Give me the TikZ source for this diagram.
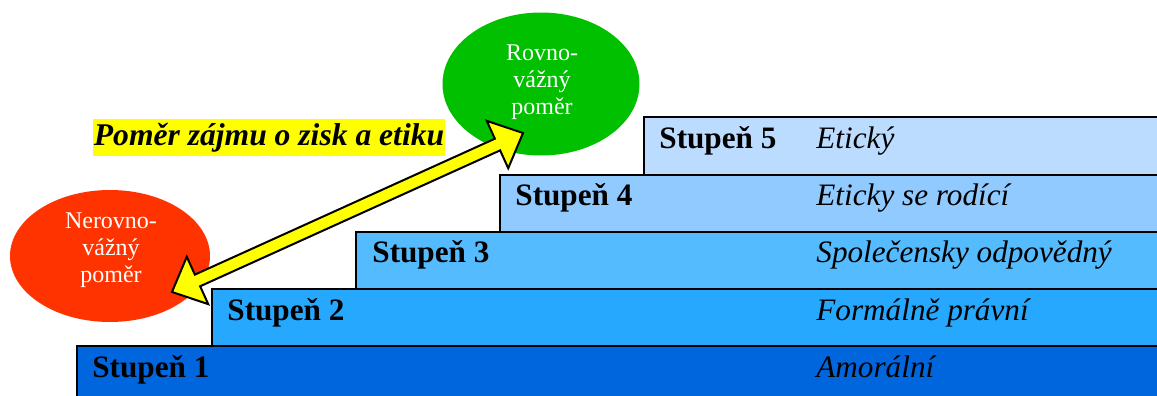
\documentclass[tikz,border=0pt]{standalone}
\usepackage{fontspec}
\setmainfont{Liberation Serif}
\usetikzlibrary{shapes.geometric,calc}

% fills of the five stages, darkest at the bottom
\definecolor{stageA}{RGB}{0,102,221}
\definecolor{stageB}{RGB}{38,168,255}
\definecolor{stageC}{RGB}{84,187,255}
\definecolor{stageD}{RGB}{144,202,255}
\definecolor{stageE}{RGB}{187,220,255}
\definecolor{unevenred}{RGB}{255,51,0}
\definecolor{evengreen}{RGB}{0,192,0}
\definecolor{marker}{RGB}{255,255,0}

\begin{document}
\begin{tikzpicture}[x=0.5pt,y=-0.5pt,
  stagebar/.style={draw=black, line width=1.2pt},
  stagelabel/.style={font=\fontsize{15.6}{18}\selectfont\bfseries, anchor=base west, inner sep=0pt},
  stagename/.style={font=\fontsize{15.6}{18}\selectfont\itshape, anchor=base west, inner sep=0pt},
  blob/.style={ellipse, inner sep=0pt},
  blobtext/.style={text=white, align=center, font=\fontsize{12}{13.5}\selectfont, inner sep=0pt, anchor=north},
  arrowbody/.style={draw=black, fill=marker, line width=1pt, line join=miter}]
\clip (0,0) rectangle (1157,396);

% staircase of stages, top step first so lower steps overlap its bottom edge
\path[stagebar, fill=stageE] (644,117) rectangle (1180,175);
\path[stagebar, fill=stageD] (500,175) rectangle (1180,232);
\path[stagebar, fill=stageC] (356,232) rectangle (1180,289);
\path[stagebar, fill=stageB] (212,289) rectangle (1180,346);
\path[stagebar, fill=stageA] (77,346) rectangle (1180,420);

\node[stagelabel] (s5) at (659,148) {Stupeň 5};
\node[stagelabel] (s4) at (515,205) {Stupeň 4};
\node[stagelabel] (s3) at (372,262) {Stupeň 3};
\node[stagelabel] (s2) at (227,320) {Stupeň 2};
\node[stagelabel] (s1) at (92,377) {Stupeň 1};

\node[stagename] (n5) at (816,148) {Etický};
\node[stagename] (n4) at (816,205) {Eticky se rodící};
\node[stagename] (n3) at (816,262) {Společensky odpovědný};
\node[stagename] (n2) at (816,320) {Formálně právní};
\node[stagename] (n1) at (816,377) {Amorální};

% the two balance states
\node[blob, fill=unevenred, minimum width=100pt, minimum height=66pt] (uneven) at (110,256) {};
\node[blob, fill=evengreen, minimum width=98.5pt, minimum height=71.5pt] (even) at (541,84) {};
\node[blobtext] (uneventext) at (111,212) {Nerovno-\\vážný\\poměr};
\node[blobtext] (eventext) at (542,44) {Rovno-\\vážný\\poměr};

% highlighted caption
\node[fill=marker, inner xsep=0.5pt, inner ysep=0pt, text height=13pt, text depth=5.5pt,
      font=\fontsize{15.8}{18}\selectfont\bfseries\itshape, anchor=base west]
      (ratio) at (92.5,145) {Poměr zájmu o zisk a etiku};

% double-headed block arrow between the two states
\coordinate (a) at ($(uneven.center)+(62,36)$);
\coordinate (b) at ($(even.center)+(-18,49)$);
\path[arrowbody] (a)
  -- ($(a)!14pt!(b)!13pt!90:(b)$)
  -- ($(a)!14pt!(b)!3.2pt!90:(b)$)
  -- ($(b)!14pt!(a)!3.2pt!-90:(a)$)
  -- ($(b)!14pt!(a)!13pt!-90:(a)$)
  -- (b)
  -- ($(b)!14pt!(a)!13pt!90:(a)$)
  -- ($(b)!14pt!(a)!3.2pt!90:(a)$)
  -- ($(a)!14pt!(b)!3.2pt!-90:(b)$)
  -- ($(a)!14pt!(b)!13pt!-90:(b)$)
  -- cycle;
\end{tikzpicture}
\end{document}
